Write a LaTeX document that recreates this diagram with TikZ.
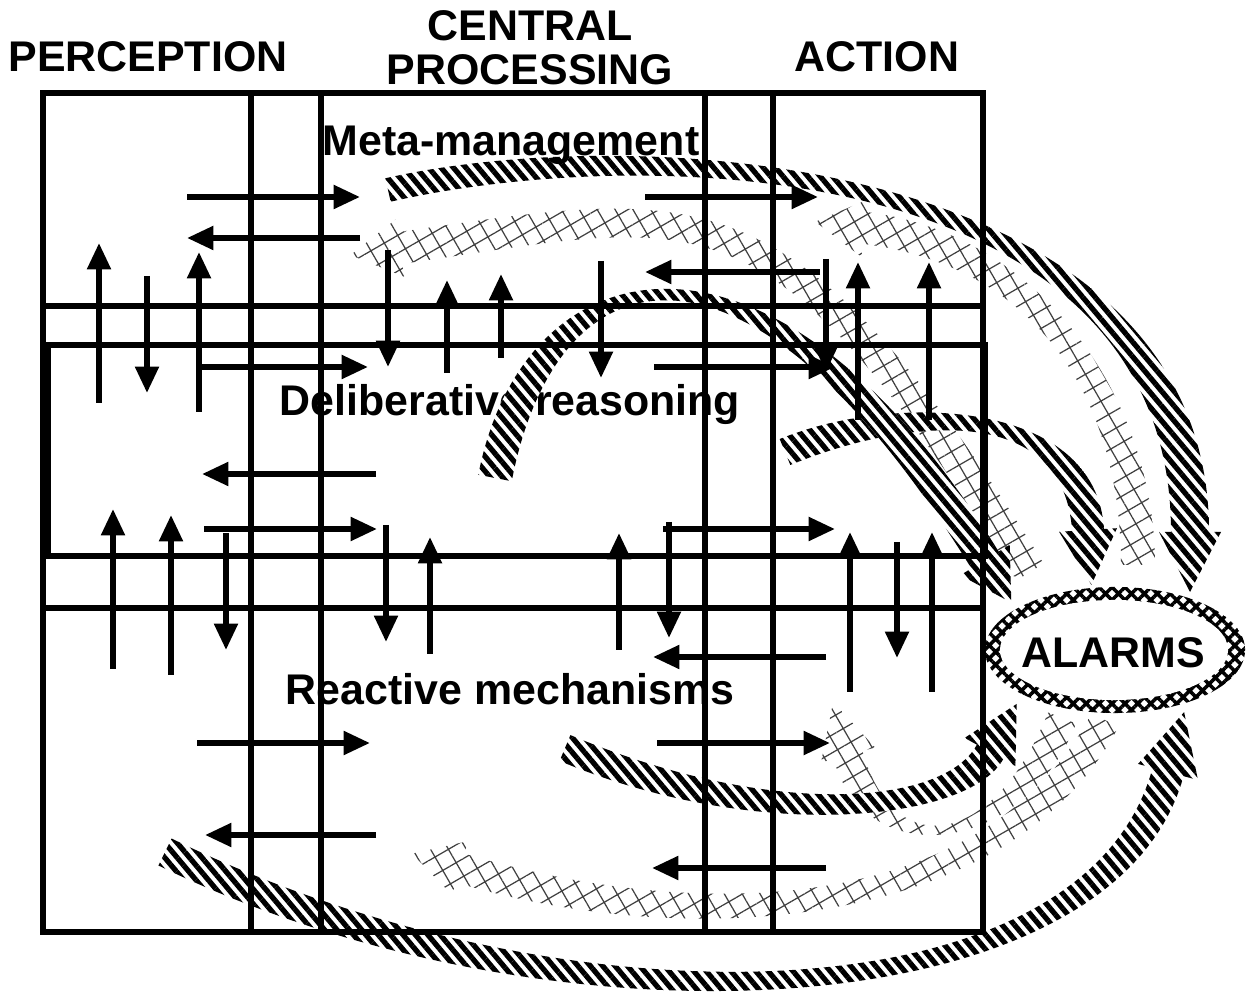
\documentclass[tikz,border=0pt]{standalone}
\usepackage{fontspec}
\setmainfont{Liberation Sans}
\usetikzlibrary{arrows.meta,%
                calc,%
                patterns.meta}

% broad curved arrow: style, start, control 1, control 2, end,
% half width at start, half width at end, half head width, head length
\newcommand{\broadarrow}[9]{%
  \fill[#1]
    ($(#2)!#6!90:(#3)$) .. controls ($(#3)!#6!-90:(#2)$) and ($(#4)!#7!90:(#5)$) .. ($(#5)!#7!-90:(#4)$)
    -- ($(#5)!#8!-90:(#4)$) -- ($(#5)!#9!180:(#4)$) -- ($(#5)!#8!90:(#4)$)
    -- ($(#5)!#7!90:(#4)$) .. controls ($(#4)!#7!-90:(#5)$) and ($(#3)!#6!90:(#2)$) .. ($(#2)!#6!-90:(#3)$)
    -- cycle;}

\begin{document}
\begin{tikzpicture}[x=0.01cm,y=-0.01cm]
  \useasboundingbox (0,0) rectangle (1246,1001);
  \tikzstyle{boxline}=[line width=1.7pt]
  \tikzstyle{flow}=[line width=1.6pt,-{Triangle[length=7.5pt,width=6.5pt]}]
  \tikzstyle{layertext}=[font=\bfseries\fontsize{12.2}{14}\selectfont,inner sep=0pt,anchor=base]
  \tikzstyle{striped}=[fill=white,postaction={pattern={Lines[angle=-50,distance=2.7pt,line width=1.5pt]}}]
  \tikzstyle{meshed}=[fill=white,postaction={pattern={Hatch[angle=30,distance=4.4pt,line width=0.35pt]},pattern color=black!75}]
  \tikzstyle{weave}=[fill=white,postaction={pattern={Hatch[angle=45,distance=2.6pt,line width=1pt]}}]

  % titles
  \node[layertext] (perc) at (148,72) {PERCEPTION};
  \node[layertext] (central) at (530,41) {CENTRAL};
  \node[layertext] (proc) at (530,85) {PROCESSING};
  \node[layertext] (action) at (877,72) {ACTION};
  \node[layertext] (delib) at (510,416) {Deliberative reasoning};
  \node[layertext] (react) at (510,705) {Reactive mechanisms};

  % alarm signals
  \broadarrow{striped}{165,852}{560,1045}{1100,1025}{1168,772}{0.15cm}{0.16cm}{0.31cm}{0.62cm}
  \broadarrow{meshed}{1105,720}{1000,920}{700,940}{460,868}{0.15cm}{0.15cm}{0.28cm}{0.50cm}
  \broadarrow{meshed}{1062,718}{1010,850}{880,870}{848,755}{0.15cm}{0.15cm}{0.28cm}{0.55cm}
  \broadarrow{striped}{565,748}{760,830}{955,815}{990,752}{0.14cm}{0.15cm}{0.29cm}{0.55cm}
  \broadarrow{meshed}{1030,572}{780,170}{700,205}{400,248}{0.16cm}{0.16cm}{0.29cm}{0.50cm}
  \broadarrow{meshed}{1138,565}{1138,400}{1040,250}{865,228}{0.17cm}{0.16cm}{0.29cm}{0.50cm}
  \broadarrow{striped}{785,452}{900,405}{1080,400}{1088,530}{0.14cm}{0.16cm}{0.29cm}{0.55cm}
  \broadarrow{striped}{388,190}{650,130}{1190,160}{1190,532}{0.12cm}{0.19cm}{0.31cm}{0.60cm}
  \broadarrow{striped}{495,478}{540,245}{760,195}{985,560}{0.17cm}{0.16cm}{0.29cm}{0.50cm}

  \node[layertext] (meta) at (511,156) {Meta-management};

  \fill[weave] (1115,650) ellipse [x radius=1.3cm, y radius=0.63cm];
  \fill[white] (1114,650) ellipse [x radius=1.14cm, y radius=0.5cm];
  \node[layertext] (alarms) at (1113,668) {ALARMS};

  % columns and layers
  \draw[boxline] (43,93) rectangle (251,932);
  \draw[boxline] (321,93) rectangle (705,932);
  \draw[boxline] (773,93) rectangle (983,932);
  \draw[boxline] (43,93) rectangle (983,306);
  \draw[boxline] (48,345) rectangle (985,556);
  \draw[boxline] (43,608) rectangle (983,932);

  % meta-management
  \draw[flow] (187,197) -- (360,197);
  \draw[flow] (360,238) -- (187,238);
  \draw[flow] (645,197) -- (818,197);
  \draw[flow] (820,272) -- (645,272);
  \draw[flow] (99,403) -- (99,243);
  \draw[flow] (147,276) -- (147,393);
  \draw[flow] (199,412) -- (199,252);
  \draw[flow] (388,250) -- (388,367);
  \draw[flow] (447,373) -- (447,280);
  \draw[flow] (501,358) -- (501,274);
  \draw[flow] (601,261) -- (601,378);
  \draw[flow] (826,259) -- (826,372);
  \draw[flow] (858,420) -- (858,262);
  \draw[flow] (929,420) -- (929,262);

  % deliberative
  \draw[flow] (197,367) -- (368,367);
  \draw[flow] (654,367) -- (835,367);
  \draw[flow] (376,474) -- (202,474);
  \draw[flow] (204,529) -- (377,529);
  \draw[flow] (663,529) -- (835,529);
  \draw[flow] (113,669) -- (113,509);
  \draw[flow] (171,675) -- (171,515);
  \draw[flow] (226,533) -- (226,650);
  \draw[flow] (386,525) -- (386,642);
  \draw[flow] (430,654) -- (430,537);
  \draw[flow] (619,650) -- (619,533);
  \draw[flow] (669,522) -- (669,638);
  \draw[flow] (850,692) -- (850,532);
  \draw[flow] (897,542) -- (897,658);
  \draw[flow] (932,692) -- (932,532);

  % reactive
  \draw[flow] (826,657) -- (653,657);
  \draw[flow] (197,743) -- (370,743);
  \draw[flow] (376,835) -- (205,835);
  \draw[flow] (657,743) -- (830,743);
  \draw[flow] (826,868) -- (652,868);

\end{tikzpicture}
\end{document}
